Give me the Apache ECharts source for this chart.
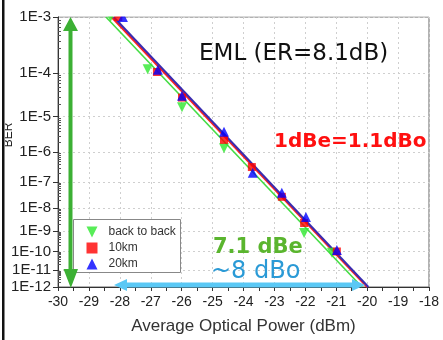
<!DOCTYPE html>
<html><head><meta charset="utf-8">
<script src="https://cdn.jsdelivr.net/npm/echarts@6/dist/echarts.min.js"></script>
<style>html,body{margin:0;padding:0;background:#fff}#c{width:443px;height:340px}</style>
</head><body><div id="c"></div>
<script>
// ---- data ----
const seriesNames = ['back to back', '10km', '20km'];
const decadeExponents = [3, 4, 5, 6, 7, 8, 9, 10, 11, 12];
const minorExponents = [4, 5, 6, 7, 8, 9, 10, 11, 12];
const minorMantissas = [2, 3, 4, 5, 6, 7, 8, 9];
const xMin = -30, xMax = -18, xStep = 1;
const berTop = 1e-3, berBottom = 1e-12;

// measured points [dBm, BER]
const b2bPoints = [[-28.3, 1.0e-3], [-27.1, 1.2e-4], [-25.99, 1.7e-5], [-24.63, 1.3e-6], [-22.04, 8e-10], [-21.14, 8.5e-11]];
const km10Points = [[-28.05, 1.0e-3], [-26.8, 1.05e-4], [-25.99, 2.9e-5], [-24.63, 2.3e-6], [-23.73, 3.3e-7], [-22.76, 2.8e-8], [-22.04, 2.3e-9], [-20.98, 1.0e-10]];
const km20Points = [[-27.9, 1.0e-3], [-26.77, 1.17e-4], [-25.99, 3.2e-5], [-24.63, 3.9e-6], [-23.7, 2.1e-7], [-22.76, 4.0e-8], [-21.98, 4.2e-9], [-20.98, 1.2e-10]];
// fitted lines [dBm, BER]
const b2bFit = [[-28.45, 1e-3], [-20.17, 1e-12]];
const km10Fit = [[-28.27, 1e-3], [-20.0, 1e-12]];
const km20Fit = [[-28.2, 1e-3], [-19.96, 1e-12]];

// ---- scale helpers ----
function berScale(ber) { return Math.log10(-Math.log10(ber)); }
const toXY = pts => pts.map(p => [p[0], berScale(p[1])]);
const majorVals = decadeExponents.map(e => berScale(Math.pow(10, -e)));
const minorVals = [];
minorExponents.forEach(e => minorMantissas.forEach(m => minorVals.push(berScale(m * Math.pow(10, -e)))));
const yMin = berScale(berTop), yMax = berScale(berBottom);

const FONT = 'Liberation Sans, Arial, sans-serif';
const DOWN_TRI = 'path://M0,0L10,0L5,10Z';
const chart = echarts.init(document.getElementById('c'), null, {renderer: 'canvas'});
chart.setOption({
  animation: false,
  backgroundColor: '#fff',
  grid: {left: 58, right: 14, top: 17, bottom: 53, show: true, borderColor: '#666', borderWidth: 1, backgroundColor: 'transparent'},
  xAxis: {
    type: 'value', min: xMin, max: xMax, interval: xStep,
    axisLine: {show: true, lineStyle: {color: '#333', width: 1}},
    axisTick: {show: true, length: 4, lineStyle: {color: '#333'}},
    minorTick: {show: true, splitNumber: 2, length: 4, lineStyle: {color: '#333'}},
    axisLabel: {fontSize: 14, color: '#222', margin: 8, fontFamily: FONT},
    splitLine: {show: true, lineStyle: {color: '#cfcfcf', type: [2, 3]}},
    name: 'Average Optical Power (dBm)', nameLocation: 'middle', nameGap: 31,
    nameTextStyle: {fontSize: 17, color: '#333', fontFamily: FONT}
  },
  yAxis: [{
    type: 'value', inverse: true, min: yMin, max: yMax,
    axisLine: {show: true, lineStyle: {color: '#333', width: 1}},
    axisTick: {show: true, customValues: majorVals, length: 5, lineStyle: {color: '#333'}},
    axisLabel: {customValues: majorVals, formatter: v => '1E-' + Math.round(Math.pow(10, v)), fontSize: 15, color: '#222', margin: 7, fontFamily: FONT},
    splitLine: {show: true, lineStyle: {color: '#cfcfcf', type: [2, 3]}}
  }, {
    type: 'value', inverse: true, min: yMin, max: yMax, position: 'left',
    axisLine: {show: false},
    axisTick: {show: true, customValues: minorVals, inside: true, length: 3, lineStyle: {color: '#555'}},
    axisLabel: {show: false}, splitLine: {show: false}
  }],
  legend: {
    data: [{name: seriesNames[0], icon: DOWN_TRI}, {name: seriesNames[1]}, {name: seriesNames[2]}],
    orient: 'vertical', left: 86.5, top: 226, padding: 0,
    itemWidth: 11, itemHeight: 11, itemGap: 4,
    textStyle: {fontSize: 12, color: '#333', fontFamily: FONT, padding: [0, 0, 0, 6]}
  },
  series: [
    {type: 'line', data: toXY(b2bFit), symbol: 'none', lineStyle: {color: '#44dd44', width: 1.6}, silent: true, z: 2},
    {type: 'line', data: toXY(km10Fit), symbol: 'none', lineStyle: {color: '#ff2020', width: 2}, silent: true, z: 2},
    {type: 'line', data: toXY(km20Fit), symbol: 'none', lineStyle: {color: '#3a2cb0', width: 2}, silent: true, z: 2},
    {name: seriesNames[0], type: 'scatter', data: toXY(b2bPoints), symbol: 'triangle', symbolRotate: 180, symbolSize: 10, itemStyle: {color: '#2ee82e'}, z: 3},
    {name: seriesNames[1], type: 'scatter', data: toXY(km10Points), symbol: 'rect', symbolSize: 8, itemStyle: {color: '#ff0000'}, z: 4},
    {name: seriesNames[2], type: 'scatter', data: toXY(km20Points), symbol: 'triangle', symbolSize: 10, itemStyle: {color: '#0000ff'}, z: 5}
  ],
  graphic: [
    // clip markers above the plot top
    {type: 'rect', shape: {x: 59, y: 0, width: 384, height: 16.5}, style: {fill: '#fff'}, z: 100},
    // legend frame
    {type: 'rect', shape: {x: 73.5, y: 219.5, width: 107, height: 53}, style: {fill: '#fff', stroke: '#888', lineWidth: 1}, z: 3},
    // green double arrow
    {type: 'polygon', shape: {points: [[70.5, 17], [78, 31], [72.5, 31], [72.5, 269], [78, 269], [70.8, 288], [63.5, 269], [68.5, 269], [68.5, 31], [63, 31]]}, style: {fill: '#3cb034'}, z: 110},
    // cyan double arrow
    {type: 'polygon', shape: {points: [[114, 285], [127, 279], [127, 282.5], [352, 282.5], [352, 279], [365, 285], [352, 291], [352, 287.5], [127, 287.5], [127, 291]]}, style: {fill: '#5ac8f5'}, z: 110},
    // annotations
    {type: 'text', x: 199, y: 54, style: {text: 'EML (ER=8.1dB)', font: '23px "DejaVu Sans"', fill: '#111', textAlign: 'left', textVerticalAlign: 'middle'}, z: 110},
    {type: 'text', x: 274, y: 142, style: {text: '1dBe=1.1dBo', font: 'bold 20px "DejaVu Sans"', fill: '#ff1010', textAlign: 'left', textVerticalAlign: 'middle'}, z: 110},
    {type: 'text', x: 213, y: 248, style: {text: '7.1 dBe', font: 'bold 21px "DejaVu Sans"', fill: '#5ab52e', textAlign: 'left', textVerticalAlign: 'middle'}, z: 110},
    {type: 'text', x: 211, y: 272, style: {text: '~8 dBo', font: '24px "DejaVu Sans"', fill: '#2a9ad6', textAlign: 'left', textVerticalAlign: 'middle'}, z: 110},
    // y axis name (partially cut)
    {type: 'text', x: 9, y: 135, rotation: Math.PI / 2, style: {text: 'BER', font: '12px "Liberation Sans"', fill: '#222', textAlign: 'center', textVerticalAlign: 'middle'}, z: 100},
    {type: 'rect', shape: {x: 0, y: 0, width: 5, height: 340}, style: {fill: '#fff'}, z: 100.5},
    // left black border
    {type: 'rect', shape: {x: 2, y: 0, width: 2.5, height: 340}, style: {fill: '#111'}, z: 101}
  ]
});
</script></body></html>
